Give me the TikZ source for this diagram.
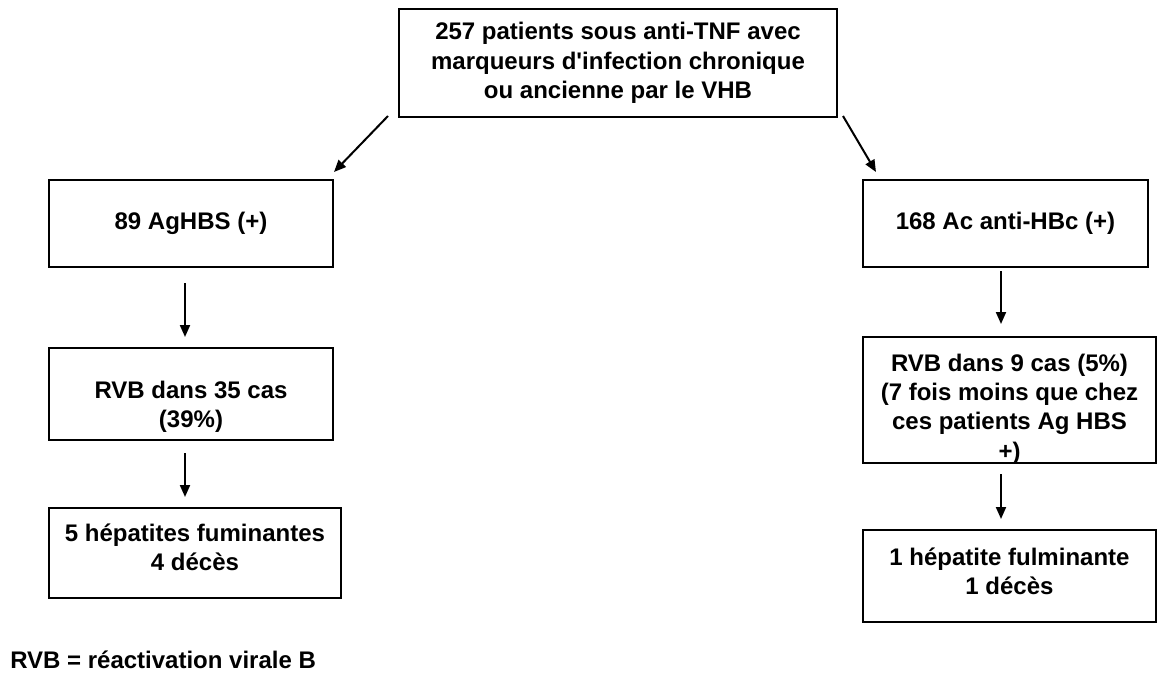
\documentclass[tikz,border=0pt]{standalone}
\usepackage{fontspec}
\setmainfont{Liberation Sans}
\usetikzlibrary{arrows.meta,calc}

\tikzset{
  box/.style={draw, line width=1.5pt, align=center, inner sep=2pt,
    font=\fontsize{18}{22}\selectfont\bfseries},
  note/.style={inner sep=0pt, font=\fontsize{18}{22}\selectfont\bfseries},
  arr/.style={line width=1.5pt, -{Triangle[width=7.5pt,length=9pt]}},
}

\begin{document}
\begin{tikzpicture}[x=0.75pt,y=-0.75pt]
\useasboundingbox (0,0) rectangle (1158,675);

\node[box,minimum width=328.5pt,minimum height=81pt] (patients) at (618,63)
  {257 patients sous anti-TNF avec\\marqueurs d\textquotesingle infection chronique\\ou ancienne par le VHB};

% branche AgHBS
\node[box,minimum width=213pt,minimum height=65.25pt] (aghbs) at (191,223.5) {89 AgHBS (+)};
\node[box,minimum width=213pt,minimum height=69pt,text height=54.6pt] (rvbl) at (191,394) {RVB dans 35 cas\\(39\%)};
\node[box,minimum width=219pt,minimum height=67.5pt,text depth=9pt] (hepl) at (195,553) {5 hépatites fuminantes\\4 décès};

% branche anti-HBc
\node[box,minimum width=213.75pt,minimum height=65.25pt] (antihbc) at (1005.5,223.5) {168 Ac anti-HBc (+)};
\node[box,minimum width=219.75pt,minimum height=94.5pt,text height=88.8pt,text depth=0pt] (rvbr) at (1009.5,400) {RVB dans 9 cas (5\%)\\(7 fois moins que chez\\ces patients Ag HBS\\+)};
\node[box,minimum width=219.75pt,minimum height=69pt,text depth=7.5pt] (hepr) at (1009.5,576) {1 hépatite fulminante\\1 décès};

\node[note,anchor=west] (legend) at (10,660) {RVB = réactivation virale B};

\coordinate (cl) at (185,0);
\coordinate (cr) at (1001,0);

\draw[arr] ($(patients.south west)+(-10,-2)$) -- ($(aghbs.north east)+(0,-7)$);
\draw[arr] ($(patients.south east)+(5,-2)$) -- ($(antihbc.north west)+(14,-7)$);

\draw[arr,shorten <=11.25pt,shorten >=7.5pt] (aghbs.south -| cl) -- (rvbl.north -| cl);
\draw[arr,shorten <=9pt,shorten >=7.5pt] (rvbl.south -| cl) -- (hepl.north -| cl);
\draw[arr,shorten <=2.25pt,shorten >=9pt] (antihbc.south -| cr) -- (rvbr.north -| cr);
\draw[arr,shorten <=7.5pt,shorten >=7.5pt] (rvbr.south -| cr) -- (hepr.north -| cr);

\end{tikzpicture}
\end{document}
